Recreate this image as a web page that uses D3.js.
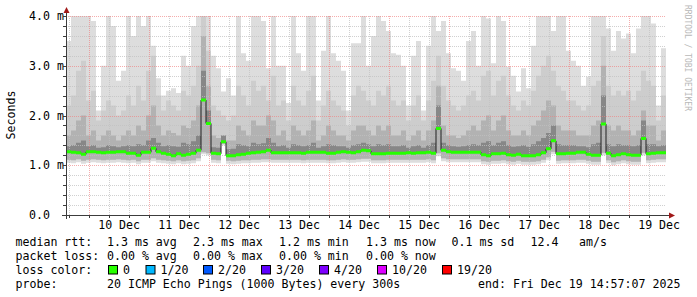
<!DOCTYPE html>
<html lang="en">
<head>
<meta charset="UTF-8">
<title>smokeping rtt</title>
<script src="https://d3js.org/d3.v7.min.js"></script>
<style>
    body {
        margin: 0;
        background: #fff;
    }
    svg {
        display: block;
        font-family: "DejaVu Sans Mono", monospace;
    }
    .txt, .tick text {
        font-family: "DejaVu Sans Mono", monospace;
        font-size: 11.6px;
        fill: #000;
        white-space: pre;
    }
    .grid-minor {
        stroke: #c0c0c0;
        stroke-opacity: 0.75;
        stroke-dasharray: 1,1;
    }
    .grid-major {
        stroke: #f08080;
        stroke-opacity: 0.65;
        stroke-dasharray: 1,1;
    }
</style>
</head>
<body>
<div id="chart"></div>
<script>
    const WIDTH = 697
    const HEIGHT = 297
    const LEFT = 66, RIGHT = 666, TOP = 16, BOTTOM = 215

    // time span of the graph: 10 days, one smoke column every 2 hours
    const START = Date.UTC(2025, 11, 9, 14, 57, 7)
    const END = Date.UTC(2025, 11, 19, 14, 57, 7)
    const STEP = 2 * 3600 * 1000

    // values in ms
    const median = [
        1.27,1.26,1.25,1.22,1.27,1.27,1.26,1.25,1.26,1.26,
        1.27,1.27,1.24,1.24,1.20,1.26,1.26,1.34,1.27,1.24,
        1.22,1.19,1.23,1.20,1.22,1.24,1.30,2.31,1.84,1.24,
        1.23,1.47,1.19,1.19,1.21,1.22,1.24,1.25,1.26,1.27,
        1.30,1.25,1.25,1.25,1.25,1.25,1.25,1.24,1.26,1.26,
        1.26,1.26,1.24,1.24,1.26,1.27,1.26,1.25,1.27,1.30,
        1.29,1.23,1.23,1.23,1.24,1.24,1.24,1.24,1.25,1.24,
        1.25,1.25,1.26,1.24,1.74,1.30,1.27,1.26,1.26,1.26,
        1.26,1.26,1.26,1.21,1.19,1.23,1.23,1.24,1.21,1.20,
        1.22,1.19,1.19,1.19,1.21,1.25,1.33,1.49,1.23,1.23,
        1.24,1.24,1.26,1.26,1.22,1.20,1.20,1.83,1.24,1.19,
        1.21,1.23,1.21,1.20,1.20,1.54,1.23,1.24,1.25,1.25
    ]
    // highest ping of the 20
    const pingMax = [
        3.5,4.0,4.0,4.0,4.0,3.9,2.1,3.0,4.0,3.8,
        2.7,2.9,4.0,3.6,4.0,3.8,4.0,3.4,2.75,2.4,
        2.5,2.55,2.45,3.2,3.0,3.8,4.0,4.0,4.0,3.2,
        2.95,2.48,2.75,2.4,4.0,3.25,3.1,4.0,4.0,3.9,
        2.95,4.0,3.0,3.0,2.25,4.0,3.25,2.9,4.0,4.0,
        2.3,3.3,4.0,3.25,3.1,2.9,2.1,3.45,3.45,4.0,
        3.0,3.6,4.0,3.9,3.7,3.25,3.22,3.0,2.2,3.2,
        3.5,2.1,3.4,4.0,3.7,3.9,3.25,2.95,2.9,2.7,
        3.5,3.7,3.0,4.0,3.95,3.05,4.0,3.9,2.98,2.8,
        2.48,2.95,2.55,3.4,4.0,4.0,4.0,3.7,4.0,4.0,
        3.3,3.1,3.0,2.6,2.78,4.0,4.0,4.0,3.75,3.3,
        3.7,3.55,3.65,3.25,3.75,4.0,4.0,3.85,2.2,3.35
    ]
    const ping18 = [
        2.2,2.4,2.9,3.1,2.3,2.5,1.9,2.1,2.3,2.2,
        2.0,2.1,2.4,2.2,2.6,2.3,2.9,3.2,2.4,2.1,
        2.3,2.2,2.1,2.5,2.4,2.6,3.0,4.0,3.3,2.2,
        2.1,2.0,1.9,2.0,2.6,2.4,2.2,2.7,2.5,2.6,
        2.3,2.8,2.2,2.3,1.9,2.6,2.3,2.2,2.5,2.8,
        1.9,2.2,2.5,2.3,2.2,2.1,1.8,2.4,2.6,2.5,
        2.3,2.2,2.5,2.4,2.6,2.3,2.2,2.3,1.9,2.2,
        2.4,1.9,2.3,2.7,3.2,2.6,2.3,2.2,2.1,2.2,
        2.4,2.5,2.3,2.8,2.9,2.4,2.7,2.8,2.4,2.2,
        2.1,2.3,2.2,2.5,2.8,3.0,3.2,2.9,2.6,2.5,
        2.3,2.3,2.2,2.1,2.2,2.6,2.7,3.6,2.6,2.4,
        2.5,2.4,2.5,2.3,2.5,2.9,2.7,2.6,1.9,2.4
    ]
    const ping15 = [
        1.6,1.7,1.9,2.0,1.6,1.7,1.5,1.6,1.7,1.6,
        1.5,1.6,1.7,1.6,1.8,1.7,2.0,2.2,1.8,1.6,
        1.7,1.65,1.6,1.8,1.75,1.9,2.2,3.6,2.6,1.6,
        1.55,1.6,1.5,1.5,1.8,1.7,1.6,1.9,1.8,1.8,
        2.0,1.9,1.6,1.7,1.5,1.8,1.7,1.6,1.7,1.9,
        1.5,1.6,1.8,1.7,1.6,1.6,1.5,1.7,1.8,1.8,
        1.7,1.6,1.8,1.7,1.8,1.6,1.6,1.7,1.5,1.6,
        1.7,1.5,1.7,1.9,2.6,1.8,1.6,1.6,1.55,1.6,
        1.7,1.8,1.7,1.9,2.0,1.7,1.9,2.0,1.7,1.6,
        1.6,1.7,1.6,1.8,1.9,2.1,2.3,2.2,1.8,1.7,
        1.7,1.7,1.6,1.6,1.6,1.8,1.9,3.0,1.8,1.7,
        1.8,1.7,1.7,1.6,1.7,2.1,1.8,1.8,1.5,1.7
    ]
    const ping12 = [
        1.38,1.40,1.45,1.50,1.38,1.40,1.35,1.36,1.40,1.38,
        1.36,1.38,1.40,1.38,1.42,1.40,1.50,1.55,1.45,1.38,
        1.40,1.38,1.37,1.45,1.42,1.48,1.60,2.90,2.10,1.36,
        1.35,1.60,1.32,1.33,1.42,1.40,1.38,1.45,1.42,1.44,
        1.55,1.45,1.38,1.40,1.35,1.42,1.40,1.38,1.40,1.45,
        1.35,1.38,1.42,1.40,1.38,1.38,1.35,1.40,1.42,1.45,
        1.42,1.38,1.42,1.40,1.42,1.38,1.38,1.40,1.35,1.38,
        1.40,1.35,1.40,1.45,2.20,1.45,1.40,1.38,1.37,1.38,
        1.40,1.42,1.40,1.45,1.48,1.40,1.45,1.48,1.40,1.37,
        1.38,1.40,1.37,1.42,1.48,1.55,1.65,1.80,1.42,1.40,
        1.40,1.40,1.38,1.38,1.36,1.42,1.45,2.40,1.42,1.38,
        1.42,1.40,1.40,1.38,1.40,1.90,1.42,1.42,1.38,1.40
    ]
    const pingLow = [
        1.11,1.10,1.12,1.09,1.11,1.12,1.11,1.10,1.11,1.11,
        1.12,1.11,1.10,1.11,1.08,1.11,1.11,1.14,1.11,1.10,
        1.09,1.08,1.10,1.08,1.09,1.10,1.14,1.26,1.24,1.11,
        1.10,1.43,1.09,1.08,1.09,1.10,1.10,1.11,1.11,1.12,
        1.12,1.11,1.11,1.11,1.11,1.11,1.11,1.10,1.11,1.11,
        1.11,1.11,1.10,1.10,1.11,1.12,1.11,1.11,1.12,1.13,
        1.13,1.10,1.10,1.10,1.11,1.11,1.11,1.11,1.11,1.11,
        1.11,1.11,1.12,1.10,1.24,1.14,1.12,1.12,1.12,1.12,
        1.12,1.12,1.12,1.08,1.07,1.09,1.09,1.10,1.08,1.07,
        1.09,1.07,1.07,1.07,1.08,1.11,1.16,1.27,1.09,1.10,
        1.10,1.10,1.11,1.11,1.09,1.07,1.07,1.25,1.10,1.06,
        1.08,1.10,1.08,1.07,1.07,1.25,1.10,1.11,1.12,1.12
    ]
    const pingMin = [
        1.05,1.04,1.06,1.03,1.05,1.06,1.05,1.04,1.05,1.05,
        1.06,1.05,1.04,1.05,1.02,1.05,1.05,1.08,1.05,1.04,
        1.03,1.02,1.04,1.02,1.03,1.04,1.08,1.22,1.20,1.05,
        1.04,1.40,1.03,1.02,1.03,1.04,1.04,1.05,1.05,1.06,
        1.06,1.05,1.05,1.05,1.05,1.05,1.05,1.04,1.05,1.05,
        1.05,1.05,1.04,1.04,1.05,1.06,1.05,1.05,1.06,1.07,
        1.07,1.04,1.04,1.04,1.05,1.05,1.05,1.05,1.05,1.05,
        1.05,1.05,1.06,1.04,1.18,1.08,1.06,1.06,1.06,1.06,
        1.06,1.06,1.06,1.02,1.01,1.03,1.03,1.04,1.02,1.01,
        1.03,1.01,1.01,1.01,1.02,1.05,1.10,1.22,1.03,1.04,
        1.04,1.04,1.05,1.05,1.03,1.01,1.01,1.20,1.04,1.00,
        1.02,1.04,1.02,1.01,1.01,1.20,1.04,1.05,1.06,1.06
    ]

    const yTicks = [0, 1, 2, 3, 4]
    const rttLabel = 'median rtt:'
    const rttStats = ['1.3 ms avg', '2.3 ms max', '1.2 ms min', '1.3 ms now', '0.1 ms sd', '12.4', 'am/s']
    const lossLabel = 'packet loss:'
    const lossStats = ['0.00 % avg', '0.00 % max', '0.00 % min', '0.00 % now']
    const colorLabel = 'loss color:'
    const lossNames = ['0', '1/20', '2/20', '3/20', '4/20', '10/20', '19/20']
    const lossColors = ['#26ff00', '#00b8ff', '#0059ff', '#5e00ff', '#7e00ff', '#dd00ff', '#ff0000']
    const probeLabel = 'probe:'
    const probeText = '20 ICMP Echo Pings (1000 Bytes) every 300s'
    const endText = 'end: Fri Dec 19 14:57:07 2025'

    // build rows: one per 2h column, plus a closing one at END for the step curves
    const rows = median.map((m, i) => ({
        t: new Date(START + i * STEP), median: m,
        max: pingMax[i], p18: ping18[i], p15: ping15[i], p12: ping12[i],
        low: pingLow[i], min: pingMin[i]
    }))
    rows.push(Object.assign({}, rows[rows.length - 1], { t: new Date(END) }))

    const x = d3.scaleUtc().domain([START, END]).range([LEFT, RIGHT])
    const y = d3.scaleLinear().domain([0, 4]).range([BOTTOM, TOP])

    const svg = d3.select('#chart').append('svg')
        .attr('width', WIDTH).attr('height', HEIGHT)
        .attr('viewBox', [0, 0, WIDTH, HEIGHT])

    svg.append('rect').attr('width', WIDTH).attr('height', HEIGHT).attr('fill', '#fff')

    svg.append('clipPath').attr('id', 'clip')
        .append('rect').attr('x', LEFT).attr('y', TOP).attr('width', RIGHT - LEFT).attr('height', BOTTOM - TOP)

    // SMOKE - lightest band first
    const smoke = svg.append('g').attr('clip-path', 'url(#clip)')
    const bands = [
        { lo: 'min', hi: 'max', color: '#dddddd' },
        { lo: 'low', hi: 'p18', color: '#cdcdcd' },
        { lo: 'low', hi: 'p15', color: '#b2b2b2' },
        { lo: 'median', hi: 'p12', color: '#878787' }
    ]
    bands.forEach(b => {
        smoke.append('path')
            .attr('fill', b.color)
            .attr('d', d3.area().curve(d3.curveStepAfter)
                .x(d => x(d.t)).y0(d => y(d[b.lo])).y1(d => y(d[b.hi]))(rows))
    })

    // GRID
    const grid = svg.append('g')
    const minorY = d3.range(1, 20).map(v => v / 5).filter(v => v % 1 !== 0)
    const minorX = d3.utcHour.every(8).range(new Date(START), new Date(END)).filter(d => d.getUTCHours() !== 0)
    const majorX = d3.utcDay.range(new Date(START), new Date(END))

    grid.selectAll('.hmin').data(minorY).enter().append('line').attr('class', 'grid-minor')
        .attr('x1', LEFT).attr('x2', RIGHT).attr('y1', d => Math.round(y(d)) + 0.5).attr('y2', d => Math.round(y(d)) + 0.5)
    grid.selectAll('.vmin').data(minorX).enter().append('line').attr('class', 'grid-minor')
        .attr('y1', TOP).attr('y2', BOTTOM).attr('x1', d => Math.round(x(d)) + 0.5).attr('x2', d => Math.round(x(d)) + 0.5)
    grid.selectAll('.hmaj').data(yTicks.slice(1)).enter().append('line').attr('class', 'grid-major')
        .attr('x1', LEFT).attr('x2', RIGHT).attr('y1', d => Math.round(y(d)) + 0.5).attr('y2', d => Math.round(y(d)) + 0.5)
    grid.selectAll('.vmaj').data(majorX).enter().append('line').attr('class', 'grid-major')
        .attr('y1', TOP).attr('y2', BOTTOM).attr('x1', d => Math.round(x(d)) + 0.5).attr('x2', d => Math.round(x(d)) + 0.5)

    // MEDIAN - dark step line, then loss-coloured bar
    const med = svg.append('g').attr('clip-path', 'url(#clip)')
    med.append('path')
        .attr('fill', 'none').attr('stroke', '#202020').attr('stroke-width', 1)
        .attr('d', d3.line().curve(d3.curveStepAfter).x(d => x(d.t)).y(d => y(d.median))(rows))
    med.append('path')
        .attr('fill', lossColors[0])
        .attr('d', d3.area().curve(d3.curveStepAfter)
            .x(d => x(d.t)).y0(d => y(d.median) + 1.5).y1(d => y(d.median) - 1.5)(rows))

    // AXES
    const yAxis = svg.append('g').attr('transform', `translate(${LEFT},0)`)
        .call(d3.axisLeft(y).tickValues(yTicks).tickSize(0)
            .tickFormat(d => d === 0 ? '0.0' : d.toFixed(1) + ' m'))
        .attr('font-family', null).attr('font-size', null)
    yAxis.select('.domain').remove()
    yAxis.selectAll('text').attr('text-anchor', 'start').attr('x', 29 - LEFT)

    const noons = d3.utcDay.range(new Date(START), new Date(END)).map(d => d3.utcHour.offset(d, 12))
    const xAxis = svg.append('g').attr('transform', `translate(0,${BOTTOM})`)
        .call(d3.axisBottom(x).tickValues(noons).tickSize(0).tickFormat(d3.utcFormat('%-d Dec')))
        .attr('font-family', null).attr('font-size', null)
    xAxis.select('.domain').remove()
    xAxis.selectAll('text').attr('y', 6)

    const axisColor = '#3c3c3c'
    const arrowColor = '#a01818'
    // small ticks
    svg.selectAll('.xt').data(minorX.concat(majorX)).enter().append('line')
        .attr('stroke', axisColor)
        .attr('x1', d => Math.round(x(d)) + 0.5).attr('x2', d => Math.round(x(d)) + 0.5)
        .attr('y1', BOTTOM).attr('y2', BOTTOM + 3)
    svg.selectAll('.yt').data(minorY.concat(yTicks)).enter().append('line')
        .attr('stroke', axisColor)
        .attr('y1', d => Math.round(y(d)) + 0.5).attr('y2', d => Math.round(y(d)) + 0.5)
        .attr('x1', LEFT - 3).attr('x2', LEFT)

    svg.append('line').attr('stroke', axisColor)
        .attr('x1', LEFT - 4).attr('x2', RIGHT + 4).attr('y1', BOTTOM + 0.5).attr('y2', BOTTOM + 0.5)
    svg.append('line').attr('stroke', axisColor)
        .attr('x1', LEFT + 0.5).attr('x2', LEFT + 0.5).attr('y1', BOTTOM + 4).attr('y2', TOP - 4)
    svg.append('path').attr('fill', arrowColor)
        .attr('d', `M${RIGHT + 3},${BOTTOM - 2.5} L${RIGHT + 9},${BOTTOM + 0.5} L${RIGHT + 3},${BOTTOM + 3.5} Z`)
    svg.append('path').attr('fill', arrowColor)
        .attr('d', `M${LEFT - 2.5},${TOP - 3} L${LEFT + 0.5},${TOP - 9} L${LEFT + 3.5},${TOP - 3} Z`)

    // axis title and watermark
    svg.append('text').attr('class', 'txt')
        .attr('transform', 'translate(15,115) rotate(-90)')
        .attr('text-anchor', 'middle')
        .text('Seconds')
    svg.append('text')
        .attr('transform', 'translate(685,5) rotate(90)')
        .attr('font-size', '8px').attr('fill', '#b8b8b8')
        .text('RRDTOOL / TOBI OETIKER')

    // LEGEND
    const legend = svg.append('g')
    const addText = (str, tx, ty) => legend.append('text').attr('class', 'txt').attr('x', tx).attr('y', ty).text(str)

    addText(rttLabel, 15.5, 245.5)
    const rttX = [107, 193, 279, 366, 451.5, 530.5, 579]
    rttStats.forEach((s, i) => addText(s, rttX[i], 245.5))

    addText(lossLabel, 15.5, 259.5)
    lossStats.forEach((s, i) => addText(s, rttX[i], 259.5))

    addText(colorLabel, 15.5, 273.5)
    const boxX = [108.5, 146, 203.5, 261.5, 319.5, 377.5, 442.5]
    lossNames.forEach((n, i) => {
        legend.append('rect')
            .attr('x', boxX[i]).attr('y', 265.5).attr('width', 9).attr('height', 8.5)
            .attr('fill', lossColors[i]).attr('stroke', '#000').attr('stroke-width', 1)
        addText(n, boxX[i] + 14.5, 273.5)
    })

    addText(probeLabel, 15.5, 287.5)
    addText(probeText, 107, 287.5)
    addText(endText, 478, 287.5)
</script>
</body>
</html>
